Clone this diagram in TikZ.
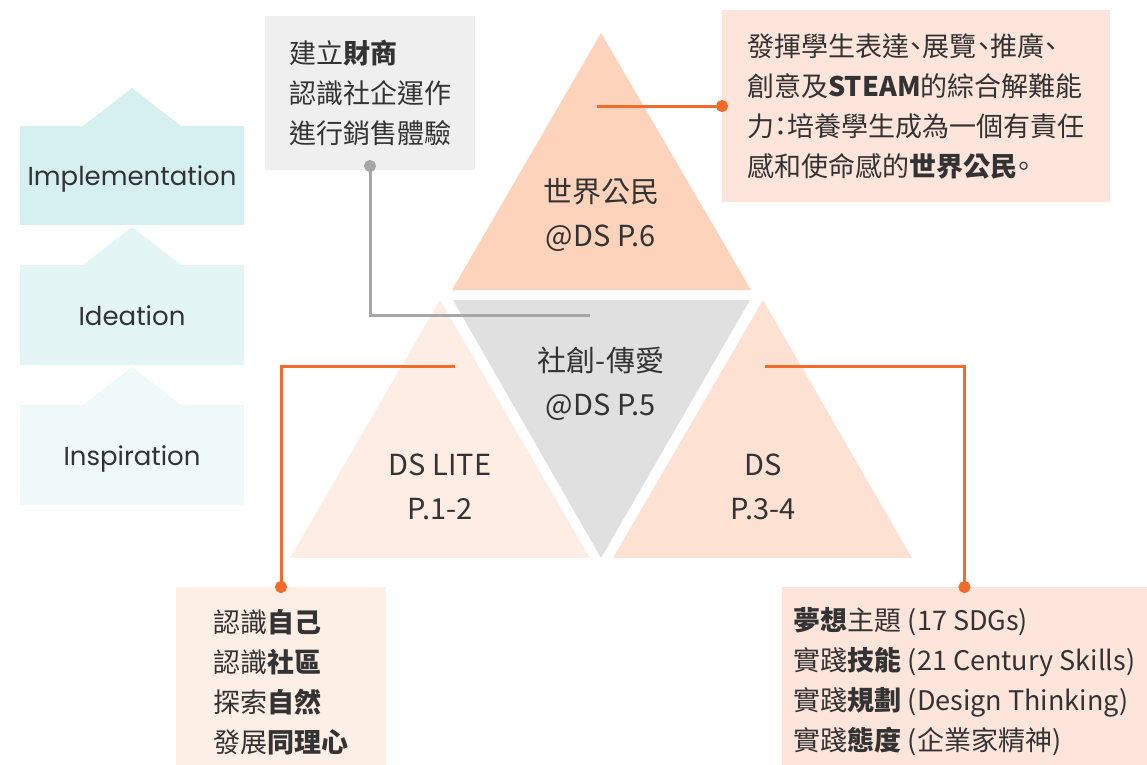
\documentclass[tikz,border=0pt]{standalone}
\usepackage{fontspec}
\setmainfont{Noto Sans CJK TC}
\newfontfamily\stagefont{Poppins}
\newfontfamily\haltfont{Noto Sans CJK TC}[RawFeature=+halt]
\usepackage{tikz}
\usetikzlibrary{arrows.meta}

\definecolor{txt}{HTML}{333333}
\definecolor{stageA}{HTML}{D6F0F0}
\definecolor{stageB}{HTML}{E3F5F5}
\definecolor{stageC}{HTML}{EFF9F9}
\definecolor{peachA}{HTML}{FDD3BC}
\definecolor{peachB}{HTML}{FDE1D3}
\definecolor{peachC}{HTML}{FDEDE4}
\definecolor{greytri}{HTML}{E0E0E0}
\definecolor{boxgrey}{HTML}{EFEFEF}
\definecolor{peachbox}{HTML}{FDE5DB}
\definecolor{peachlight}{HTML}{FDEEE6}
\definecolor{orangeline}{HTML}{F26B2A}
\definecolor{greyline}{HTML}{A6A6A6}

\begin{document}
\begin{tikzpicture}[x=1pt, y=-1pt, >={Circle[length=12pt]},
     every node/.style = {text=txt, inner sep=0pt, outer sep=0pt},
     stage/.style = {font=\stagefont\fontsize{26}{30}\selectfont, anchor=base},
     tri/.style = {font=\fontsize{29}{44}\selectfont, align=center},
     info/.style = {font=\fontsize{27}{40}\selectfont, align=left,
     anchor=north west},
     link/.style = {line width=3pt, draw=orangeline, shorten >=-6pt},
     greylink/.style = {line width=3pt, draw=greyline, shorten <=-10pt}]
        \useasboundingbox (0,0) rectangle (1147,764);
        \fill[stageA] (20,126) -- (83,126) -- (132,88) -- (181,126)
            -- (244,126) -- (244,225) -- (20,225) -- cycle;
        \fill[stageB] (20,265) -- (83,265) -- (132,227) -- (181,265)
            -- (244,265) -- (244,365) -- (20,365) -- cycle;
        \fill[stageC] (20,405) -- (83,405) -- (132,367) -- (181,405)
            -- (244,405) -- (244,505) -- (20,505) -- cycle;
        \node [stage] at (132,185) (impl) {Implementation};
        \node [stage] at (132,325) (idea) {Ideation};
        \node [stage] at (132,465) (insp) {Inspiration};
        \fill[peachA] (452,290) -- (601,33) -- (751,290) -- cycle;
        \fill[greytri] (453,300) -- (750,300) -- (601,558) -- cycle;
        \fill[peachC] (290,558) -- (440,300) -- (590,558) -- cycle;
        \fill[peachB] (613,558) -- (763,300) -- (912,558) -- cycle;
        \node [tri] at (601,215) (world) {世界公民\\@DS P.6};
        \node [tri] at (601,384) (love) {社創-傳愛\\@DS P.5};
        \node [tri] at (440,487) (lite) {DS LITE\\P.1-2};
        \node [tri] at (763,487) (ds) {DS\\P.3-4};
        \node [info, fill=boxgrey, minimum width=210, minimum height=154]
            at (265,16) (biz) {建立\textbf{財商}\\認識社企運作\\進行銷售體驗};
        \node [info, fill=peachbox, minimum width=388, minimum height=192,
                font=\haltfont\fontsize{27}{40}\selectfont]
            at (722,10) (goal) {發揮學生表達、展覽、推廣、\\
            創意及\textbf{STEAM}的綜合解難能\\力：培養學生成為一個有責任\\
            感和使命感的\textbf{世界公民}。};
        \node [info, fill=peachlight, minimum width=210, minimum height=190]
            at (176,587) (self) {認識\textbf{自己}\\認識\textbf{社區}\\
            探索\textbf{自然}\\發展\textbf{同理心}};
        \node [info, fill=peachbox, minimum width=365, minimum height=190]
            at (782,587) (dream) {\textbf{夢想}主題 (17 SDGs)\\
            實踐\textbf{技能} (21 Century Skills)\\
            實踐\textbf{規劃} (Design Thinking)\\
            實踐\textbf{態度} (企業家精神)};
        \coordinate (p6) at (597,106);
        \coordinate (p5) at (590,315);
        \coordinate (p12) at (455,366);
        \coordinate (p34) at (765,366);
        \draw [greylink, <-] (biz.south) |- (p5);
        \draw [link, ->] (p6) -- (goal.west);
        \draw [link, ->] (p12) -| (self.north);
        \draw [link, ->] (p34) -| (dream.north);
\end{tikzpicture}
\end{document}
